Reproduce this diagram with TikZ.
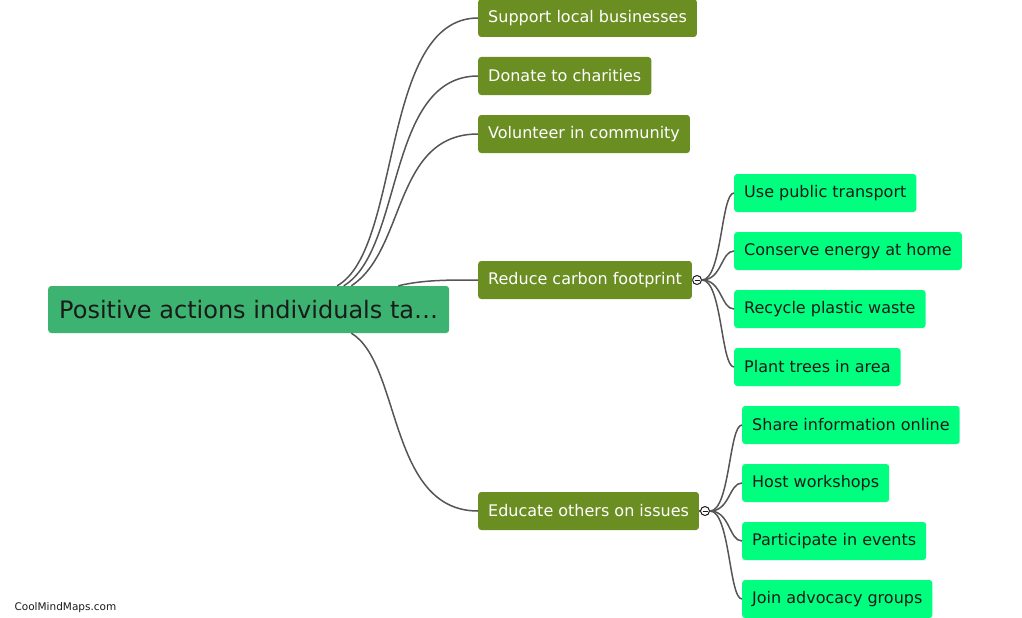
\documentclass[tikz,border=0pt]{standalone}
\usepackage{fontspec}
\setmainfont{DejaVu Sans}
\usepackage{xcolor}

\definecolor{rootgreen}{HTML}{3CB371}
\definecolor{olive}{HTML}{6B8E23}
\definecolor{spring}{HTML}{00FF7F}
\definecolor{wire}{HTML}{555555}
\definecolor{ink}{HTML}{1A1A1A}

\begin{document}
\begin{tikzpicture}[
    x=1pt, y=-1pt,
    topic/.style={
        rectangle,
        fill=rootgreen,
        rounded corners=3pt,
        minimum height=47pt,
        inner xsep=11pt,
        text=ink,
        font=\fontsize{24}{28}\selectfont,
        anchor=west
    },
    branch/.style={
        rectangle,
        fill=olive,
        rounded corners=3pt,
        minimum height=38pt,
        inner xsep=10pt,
        text=white,
        font=\fontsize{16}{19}\selectfont,
        anchor=west
    },
    leaf/.style={
        rectangle,
        fill=spring,
        rounded corners=3pt,
        minimum height=38pt,
        inner xsep=10pt,
        text=ink,
        font=\fontsize{16}{19}\selectfont,
        anchor=west
    },
    fold/.style={
        circle,
        draw=ink,
        fill=white,
        line width=1pt,
        inner sep=0pt,
        minimum size=9pt
    },
    link/.style={
        draw=wire,
        line width=1.5pt
    }
]
\useasboundingbox (0,0) rectangle (1022,618);

\node[topic] (root) at (48,309.5)
{Positive actions individuals ta…};

\node[branch] (support) at (478,18)
{Support local businesses};
\node[branch] (donate) at (478,76)
{Donate to charities};
\node[branch] (volunteer) at (478,134)
{Volunteer in community};
\node[branch] (carbon) at (478,280)
{Reduce carbon footprint};
\node[branch] (educate) at (478,511)
{Educate others on issues};

\node[leaf] (transport) at (734,193)
{Use public transport};
\node[leaf] (energy) at (734,251)
{Conserve energy at home};
\node[leaf] (recycle) at (734,309)
{Recycle plastic waste};
\node[leaf] (trees) at (734,367)
{Plant trees in area};

\node[leaf] (share) at (742,425)
{Share information online};
\node[leaf] (workshops) at (742,483)
{Host workshops};
\node[leaf] (events) at (742,541)
{Participate in events};
\node[leaf] (advocacy) at (742,599)
{Join advocacy groups};

% root to branches
\draw[link] (root.15) .. controls +(65,-36) and +(-98,0) .. (support.west);
\draw[link] (root.14) .. controls +(60,-36) and +(-92,0) .. (donate.west);
\draw[link] (root.13) .. controls +(55,-36) and +(-85,0) .. (volunteer.west);
\draw[link] (root.9) .. controls +(25,-6) and +(-30,0) .. (carbon.west);
\draw[link] (root.-13) .. controls +(50,30) and +(-90,0) .. (educate.west);

% fold buttons
\node[fold] (foldcarbon) at (697,280) {};
\node[fold] (foldeducate) at (705,511) {};

\foreach \leafname in {transport, energy, recycle, trees}
    \draw[link] (foldcarbon.east) .. controls +(20,0) and +(-13,0) .. (\leafname.west);
\foreach \leafname in {share, workshops, events, advocacy}
    \draw[link] (foldeducate.east) .. controls +(20,0) and +(-13,0) .. (\leafname.west);

\draw[link] (carbon.east) -- (foldcarbon.west);
\draw[link] (educate.east) -- (foldeducate.west);
\draw[ink, line width=1pt] ([xshift=-2.5pt]foldcarbon.center) -- ([xshift=2.5pt]foldcarbon.center);
\draw[ink, line width=1pt] ([xshift=-2.5pt]foldeducate.center) -- ([xshift=2.5pt]foldeducate.center);

\node[anchor=west, text=ink, font=\fontsize{10.5}{12}\selectfont] (brand) at (11,608)
{CoolMindMaps.com};

\end{tikzpicture}
\end{document}
